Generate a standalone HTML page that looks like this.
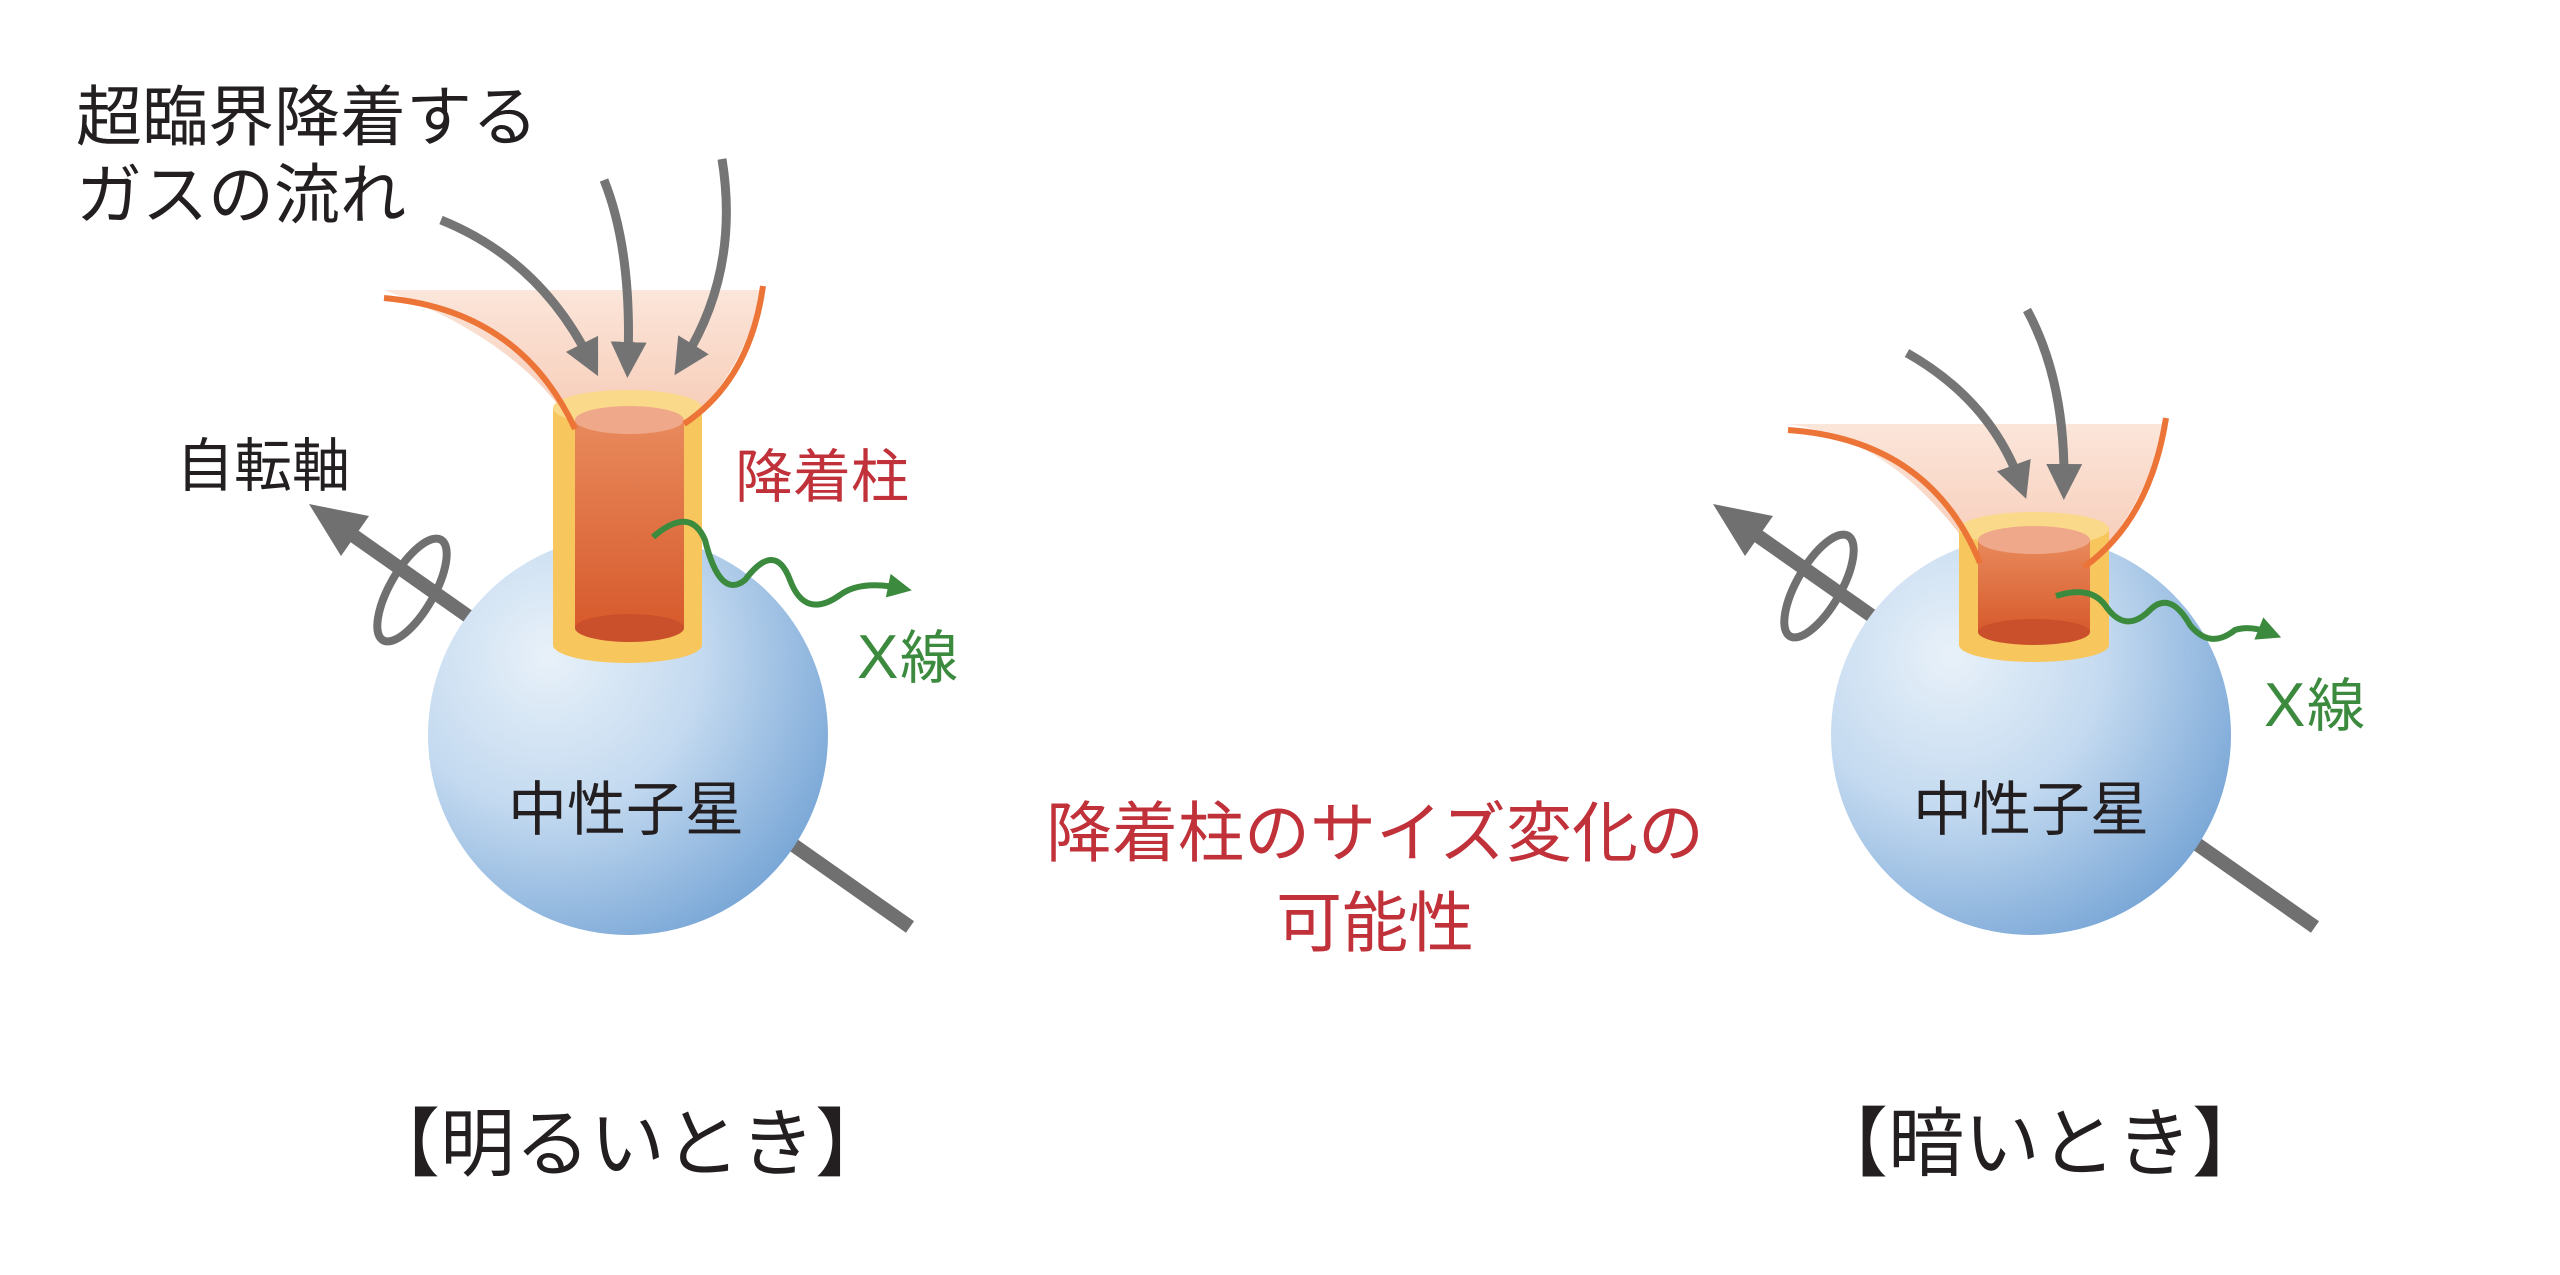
<!DOCTYPE html>
<html><head><meta charset="utf-8"><style>
html,body{margin:0;padding:0;background:#fff;}
svg{display:block;}
text{font-family:"Liberation Sans","Noto Sans CJK JP",sans-serif;}
</style></head><body>
<svg width="2560" height="1275" viewBox="0 0 2560 1275" xmlns="http://www.w3.org/2000/svg">
<defs>
<radialGradient id="sph" cx="0.3" cy="0.3" r="0.85">
<stop offset="0" stop-color="#e8f1f9"/><stop offset="0.45" stop-color="#c4daf0"/><stop offset="1" stop-color="#6e9fd3"/>
</radialGradient>
<linearGradient id="col" x1="0" y1="0" x2="0" y2="1">
<stop offset="0" stop-color="#e88a5c"/><stop offset="1" stop-color="#d75a2c"/>
</linearGradient>
<linearGradient id="fun" x1="0" y1="0" x2="0" y2="1">
<stop offset="0" stop-color="#fbe3d6"/><stop offset="1" stop-color="#f6c4ad"/>
</linearGradient>
<marker id="ga" viewBox="0 0 10 10" refX="5" refY="5" markerWidth="4" markerHeight="4" orient="auto"><path d="M0,0L10,5L0,10z" fill="#737373"/></marker>
<marker id="gr" viewBox="0 0 10 10" refX="5" refY="5" markerWidth="5" markerHeight="4" orient="auto"><path d="M0,0L10,5L0,10z" fill="#3b8a3e"/></marker>
</defs>

<!-- LEFT -->
<line x1="354" y1="536" x2="910" y2="927" stroke="#707070" stroke-width="14"/>
<polygon points="309,504 341,556 369,516" fill="#707070"/>
<ellipse cx="412" cy="590" rx="22" ry="58" transform="rotate(30 412 590)" fill="none" stroke="#707070" stroke-width="8"/>
<circle cx="628" cy="735" r="200" fill="url(#sph)"/>
<path d="M384,290 L763,290 Q740,380 684,424 L575,429 Q520,340 384,290 z" fill="url(#fun)" opacity="0.9"/>
<rect x="553" y="408" width="149" height="237" fill="#f7c75e"/>
<ellipse cx="627.5" cy="645" rx="74.5" ry="18" fill="#f7c75e"/>
<ellipse cx="627.5" cy="408" rx="74.5" ry="18" fill="#fad98a"/>
<rect x="575" y="420" width="109" height="208" fill="url(#col)"/>
<ellipse cx="629.5" cy="628" rx="54.5" ry="14" fill="#c9502a"/>
<ellipse cx="629.5" cy="420" rx="54.5" ry="14" fill="#efa88a"/>
<path d="M384,298 Q520,310 575,429" fill="none" stroke="#ec7437" stroke-width="6"/>
<path d="M763,286 Q750,380 684,424" fill="none" stroke="#ec7437" stroke-width="6"/>
<path d="M441,220 Q540,260 590,360" fill="none" stroke="#757575" stroke-width="9" marker-end="url(#ga)"/>
<path d="M604,180 Q632,250 628,360" fill="none" stroke="#757575" stroke-width="9" marker-end="url(#ga)"/>
<path d="M722,159 Q740,270 684,360" fill="none" stroke="#757575" stroke-width="9" marker-end="url(#ga)"/>
<path d="M653,537 Q690,505 705,540 Q720,600 745,580 Q775,540 790,580 Q805,620 840,595 Q860,580 900,588" fill="none" stroke="#3b8a3e" stroke-width="6" marker-end="url(#gr)"/>

<text x="76" y="140" font-size="66" fill="#231f20">超臨界降着する</text>
<text x="76" y="218" font-size="66" fill="#231f20">ガスの流れ</text>
<text x="176" y="486" font-size="58" fill="#231f20">自転軸</text>
<text x="735" y="497" font-size="58" fill="#c0313a">降着柱</text>
<text x="857" y="678" font-size="62" fill="#3b8a3e" font-family="Liberation Serif,serif">X</text>
<text x="900" y="678" font-size="58" fill="#3b8a3e">線</text>
<text x="508" y="830" font-size="59" fill="#231f20">中性子星</text>
<text x="365" y="1170" font-size="75" fill="#231f20">【明るいとき】</text>

<!-- CENTER -->
<text x="1375" y="856" font-size="66" fill="#c0313a" text-anchor="middle">降着柱のサイズ変化の</text>
<text x="1375" y="946" font-size="66" fill="#c0313a" text-anchor="middle">可能性</text>

<!-- RIGHT -->
<line x1="1758" y1="536" x2="2315" y2="927" stroke="#707070" stroke-width="14"/>
<polygon points="1713,504 1745,556 1773,516" fill="#707070"/>
<ellipse cx="1819" cy="586" rx="22" ry="58" transform="rotate(30 1819 586)" fill="none" stroke="#707070" stroke-width="8"/>
<circle cx="2031" cy="735" r="200" fill="url(#sph)"/>
<path d="M1788,424 L2166,424 Q2140,520 2084,567 L1980,563 Q1900,440 1788,424 z" fill="url(#fun)" opacity="0.9"/>
<rect x="1959" y="529" width="150" height="116" fill="#f7c75e"/>
<ellipse cx="2034" cy="645" rx="75" ry="17" fill="#f7c75e"/>
<ellipse cx="2034" cy="529" rx="75" ry="17" fill="#fad98a"/>
<rect x="1978" y="540" width="112" height="92" fill="url(#col)"/>
<ellipse cx="2034" cy="632" rx="56" ry="13" fill="#c9502a"/>
<ellipse cx="2034" cy="540" rx="56" ry="14" fill="#efa88a"/>
<path d="M1788,430 Q1930,440 1980,563" fill="none" stroke="#ec7437" stroke-width="6"/>
<path d="M2166,418 Q2150,520 2084,567" fill="none" stroke="#ec7437" stroke-width="6"/>
<path d="M1907,353 Q1990,400 2020,482" fill="none" stroke="#757575" stroke-width="9" marker-end="url(#ga)"/>
<path d="M2027,310 Q2065,380 2064,482" fill="none" stroke="#757575" stroke-width="9" marker-end="url(#ga)"/>
<path d="M2056,596 Q2090,585 2105,605 Q2125,635 2150,610 Q2170,590 2190,625 Q2210,650 2235,630 Q2250,625 2270,633" fill="none" stroke="#3b8a3e" stroke-width="6" marker-end="url(#gr)"/>

<text x="2264" y="726" font-size="62" fill="#3b8a3e" font-family="Liberation Serif,serif">X</text>
<text x="2307" y="726" font-size="58" fill="#3b8a3e">線</text>
<text x="1913" y="830" font-size="59" fill="#231f20">中性子星</text>
<text x="1812" y="1170" font-size="76" fill="#231f20">【暗いとき】</text>
</svg>
</body></html>
